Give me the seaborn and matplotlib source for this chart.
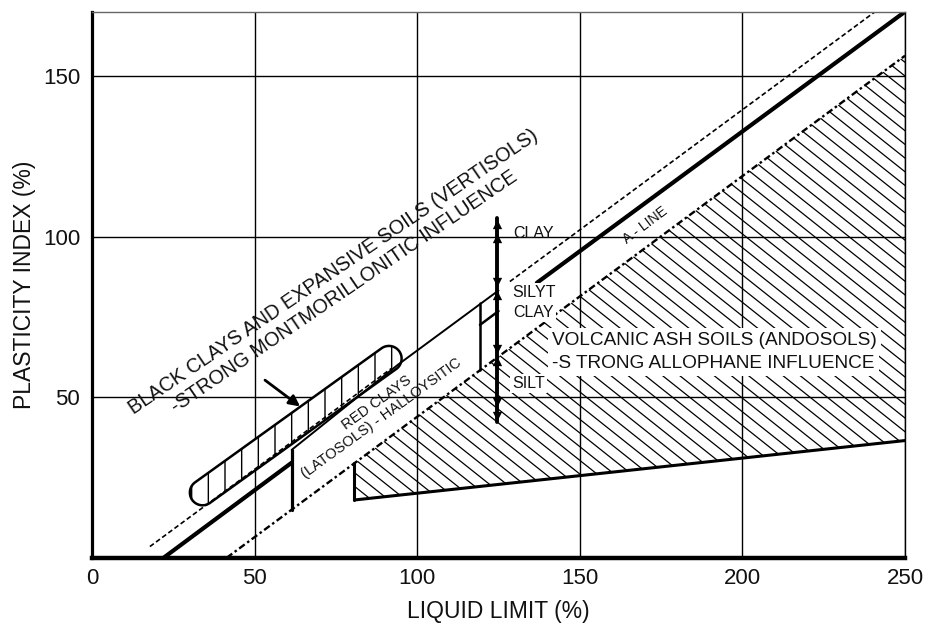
import numpy as np
import matplotlib
matplotlib.use("Agg")
import matplotlib.pyplot as plt
from matplotlib.patches import Polygon
from matplotlib.collections import LineCollection
import seaborn as sns

# ---- axes ----
x_ticks = [0, 50, 100, 150, 200, 250]
y_ticks = [50, 100, 150]
x_range = [0, 250]
y_range = [0, 170]

# ---- boundary lines (liquid limit %, plasticity index %) ----
a_line_lower_ll = [22.0, 61.4]
a_line_lower_pi = [0.0, 29.6]
a_line_step_ll = [119.3, 125.0]
a_line_step_pi = [72.5, 76.8]
a_line_upper_ll = [136.8, 250.0]
a_line_upper_pi = [85.6, 170.0]

upper_dash_a_ll = [17.8, 92.0]
upper_dash_a_pi = [3.5, 58.9]
upper_dash_b_ll = [128.5, 240.8]
upper_dash_b_pi = [86.0, 170.0]

lower_dash_ll = [41.4, 250.0]
lower_dash_pi = [0.0, 156.3]

# red clays (latosols) zone
red_top_ll = [61.4, 94.2, 125.0]
red_top_pi = [33.6, 60.2, 83.2]
red_left_ll = [61.4, 61.4]
red_left_pi = [15.0, 33.6]
red_right_ll = [119.3, 119.3]
red_right_pi = [58.4, 79.3]

# volcanic ash soils zone
volcanic_ll = [80.7, 250.0, 250.0, 80.7]
volcanic_pi = [29.4, 156.3, 36.5, 18.0]

# black clays zone (capsule axis end points)
capsule_ll = [34.0, 91.3]
capsule_pi = [20.3, 62.0]
capsule_radius_px = 12.7

# pointer to black clays zone
pointer_from = (53.2, 55.3)
pointer_to = (64.0, 47.1)

# clay / silty clay / silt scale
scale_ll = 124.6
scale_pi = [42.4, 105.8]
scale_up_pi = [104.0, 99.5, 81.8, 61.3]
scale_down_pi = [85.9, 65.0, 48.5, 44.2]

sns.set_theme(style="white")
plt.rcParams["font.family"] = ["Liberation Sans", "DejaVu Sans"]
plt.rcParams["lines.scale_dashes"] = False
plt.rcParams["hatch.linewidth"] = 1.0
plt.rcParams["hatch.color"] = "black"

W, H = 926, 623
DPI = 100
ax_box = [92 / W, 1 - 557.8 / H, (905 - 92) / W, (557.8 - 11.7) / H]
fig = plt.figure(figsize=(W / DPI, H / DPI), dpi=DPI)
ax = fig.add_axes(ax_box)
ax.set_xlim(*x_range)
ax.set_ylim(*y_range)
ax.set_xticks(x_ticks)
ax.set_yticks(y_ticks)
ax.set_axisbelow(True)
ax.grid(True, color="black", linewidth=1.0)

# output pixels per data unit, used for round caps and slanted hatching
sx = W * ax_box[2] / (x_range[1] - x_range[0])
sy = H * ax_box[3] / (y_range[1] - y_range[0])


def to_px(ll, pi):
    return np.column_stack([np.asarray(ll) * sx, np.asarray(pi) * sy])


def from_px(p):
    p = np.asarray(p)
    return np.column_stack([p[:, 0] / sx, p[:, 1] / sy])


for lab in ax.get_xticklabels() + ax.get_yticklabels():
    lab.set_fontsize(16)
    lab.set_color("#111111")
ax.tick_params(axis="both", length=0)
ax.tick_params(axis="x", pad=7)
ax.tick_params(axis="y", pad=8.5)

for side, lw, col in [("left", 2.3, "black"), ("bottom", 3.2, "black"),
                      ("top", 1.0, "#666666"), ("right", 1.0, "black")]:
    ax.spines[side].set_linewidth(lw)
    ax.spines[side].set_color(col)
    ax.spines[side].set_zorder(5)


def seg(ll, pi, **kw):
    sns.lineplot(x=ll, y=pi, ax=ax, color="black", estimator=None,
                 sort=False, legend=False, **kw)


# hatched volcanic ash zone: slanted hatch lines clipped to the zone
vol = Polygon(np.column_stack([volcanic_ll, volcanic_pi]), closed=True,
              facecolor="none", edgecolor="none", zorder=1)
ax.add_patch(vol)
px = to_px(volcanic_ll, volcanic_pi)
slope = np.tan(np.deg2rad(38.5))
step_x = 17.2
c_vals = px[:, 1] + slope * px[:, 0]
x_lo, x_hi = px[:, 0].min() - 5, px[:, 0].max() + 5
hatch_segments = []
for c in np.arange(c_vals.min(), c_vals.max() + step_x * slope, step_x * slope):
    p = np.array([[x_lo, c - slope * x_lo], [x_hi, c - slope * x_hi]])
    hatch_segments.append(from_px(p))
hatch = LineCollection(hatch_segments, colors="black", linewidths=0.9,
                       zorder=1)
ax.add_collection(hatch)
hatch.set_clip_path(vol)

seg([volcanic_ll[3], volcanic_ll[2]], [volcanic_pi[3], volcanic_pi[2]],
    linewidth=2.2, zorder=3)
seg([volcanic_ll[0], volcanic_ll[3]], [volcanic_pi[0], volcanic_pi[3]],
    linewidth=2.2, zorder=3)

# black clays capsule, built in pixel space so the ends stay round
ends = to_px(capsule_ll, capsule_pi)
a, b = ends[0], ends[1]
phi = np.arctan2(*(b - a)[::-1])
r = capsule_radius_px
t_end = np.linspace(phi + np.pi / 2, phi - np.pi / 2, 40)
t_start = np.linspace(phi - np.pi / 2, phi - 3 * np.pi / 2, 40)
outline = np.vstack([b + r * np.column_stack([np.cos(t_end), np.sin(t_end)]),
                     a + r * np.column_stack([np.cos(t_start), np.sin(t_start)])])
cap = Polygon(from_px(outline), closed=True, facecolor="white",
              edgecolor="black", linewidth=1.8, hatch="|", zorder=2)
ax.add_patch(cap)

# A-line
seg(a_line_lower_ll, a_line_lower_pi, linewidth=3.0, zorder=3)
seg(a_line_step_ll, a_line_step_pi, linewidth=1.8, zorder=3)
seg(a_line_upper_ll, a_line_upper_pi, linewidth=3.0, zorder=3)

# dashed boundaries
seg(upper_dash_a_ll, upper_dash_a_pi, linewidth=1.2,
    linestyle=(0, (3.5, 2.0)), zorder=3)
seg(upper_dash_b_ll, upper_dash_b_pi, linewidth=1.2,
    linestyle=(0, (3.5, 2.0)), zorder=3)
seg(lower_dash_ll, lower_dash_pi, linewidth=1.7,
    linestyle=(0, (5.0, 2.2, 1.8, 2.2)), zorder=3)

# red clays outline
seg(red_top_ll, red_top_pi, linewidth=1.4, zorder=3)
seg(red_left_ll, red_left_pi, linewidth=2.3, zorder=3)
seg(red_right_ll, red_right_pi, linewidth=1.8, zorder=3)

# clay / silty clay / silt scale
seg([scale_ll, scale_ll], scale_pi, linewidth=2.8, zorder=4)
sns.scatterplot(x=[scale_ll] * len(scale_up_pi), y=scale_up_pi, marker="^",
                s=45, color="black", linewidth=0, ax=ax, zorder=4, legend=False)
sns.scatterplot(x=[scale_ll] * len(scale_down_pi), y=scale_down_pi, marker="v",
                s=45, color="black", linewidth=0, ax=ax, zorder=4, legend=False)

# pointer
ax.annotate("", xy=pointer_to, xytext=pointer_from,
            arrowprops=dict(arrowstyle="-|>", color="black", lw=2.0,
                            mutation_scale=16, shrinkA=0, shrinkB=0),
            zorder=4)

# labels
white = dict(facecolor="white", edgecolor="none", pad=1.5)
ax.text(75.3, 87.7, "BLACK CLAYS AND EXPANSIVE SOILS (VERTISOLS)",
        rotation=34.3, rotation_mode="anchor", ha="center", va="baseline",
        fontsize=14.3, color="#111111", zorder=4)
ax.text(78.6, 81.4, "-STRONG MONTMORILLONITIC INFLUENCE",
        rotation=34.3, rotation_mode="anchor", ha="center", va="baseline",
        fontsize=14.3, color="#111111", zorder=4)
ax.text(88.3, 47.3, "RED CLAYS", rotation=36, rotation_mode="anchor",
        ha="center", va="baseline", fontsize=10.5, color="#111111", zorder=4)
ax.text(89.8, 42.4, "(LATOSOLS) - HALLOYSITIC", rotation=36,
        rotation_mode="anchor", ha="center", va="baseline", fontsize=10.5,
        color="#111111", zorder=4)
ax.text(170.0, 103.5, "A - LINE", rotation=37, rotation_mode="anchor",
        ha="center", va="center", fontsize=10, color="#111111", zorder=4)

ax.text(129.5, 99.6, "CLAY", ha="left", va="baseline", fontsize=11.5,
        color="#111111", zorder=4)
ax.text(129.1, 81.3, "SILYT", ha="left", va="baseline", fontsize=11.5,
        color="#111111", zorder=4, bbox=white)
ax.text(129.6, 75.1, "CLAY", ha="left", va="baseline", fontsize=11.5,
        color="#111111", zorder=4, bbox=white)
ax.text(129.1, 52.8, "SILT", ha="left", va="baseline", fontsize=11.5,
        color="#111111", zorder=4, bbox=white)
ax.text(141.4, 66.3, "VOLCANIC ASH SOILS (ANDOSOLS)", ha="left",
        va="baseline", fontsize=13.7, color="#111111", zorder=4,
        bbox=dict(facecolor="white", edgecolor="none", pad=3))
ax.text(141.4, 59.0, "-S TRONG ALLOPHANE INFLUENCE", ha="left",
        va="baseline", fontsize=13.7, color="#111111", zorder=4,
        bbox=dict(facecolor="white", edgecolor="none", pad=3))

ax.set_xlabel("LIQUID LIMIT (%)", fontsize=16.5, color="#111111", labelpad=8)
ax.set_ylabel("PLASTICITY INDEX (%)", fontsize=16.5, color="#111111",
              labelpad=5)

fig.savefig("out.png", dpi=DPI)
